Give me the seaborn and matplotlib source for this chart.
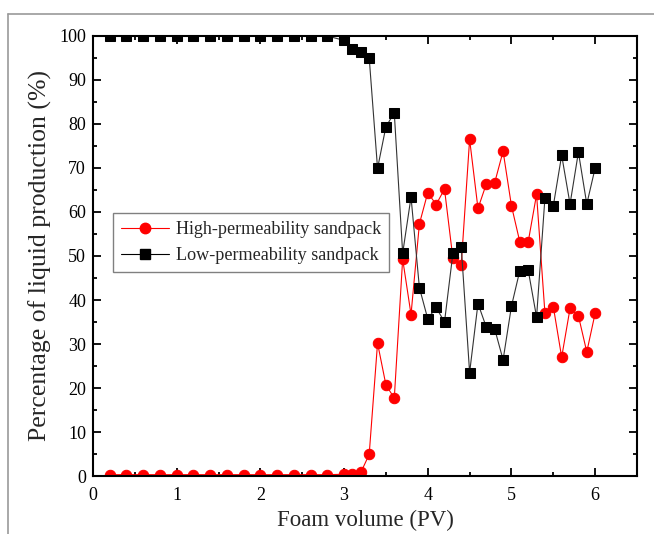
import numpy as np
import pandas as pd
import matplotlib
matplotlib.use("Agg")
import matplotlib.pyplot as plt
from matplotlib.lines import Line2D
from matplotlib.ticker import MultipleLocator
import seaborn as sns

# Foam volume injected (PV)
foam_pv = [0.2, 0.4, 0.6, 0.8, 1.0, 1.2, 1.4, 1.6, 1.8, 2.0, 2.2, 2.4, 2.6, 2.8,
           3.0, 3.1, 3.2, 3.3, 3.4, 3.5, 3.6, 3.7, 3.8, 3.9, 4.0, 4.1, 4.2, 4.3,
           4.4, 4.5, 4.6, 4.7, 4.8, 4.9, 5.0, 5.1, 5.2, 5.3, 5.4, 5.5, 5.6, 5.7,
           5.8, 5.9, 6.0]

# Percentage of liquid production (%)
high_perm = [0.3, 0.3, 0.3, 0.3, 0.3, 0.3, 0.3, 0.3, 0.3, 0.3, 0.3, 0.3, 0.3, 0.3,
             0.4, 0.5, 0.8, 4.9, 30.2, 20.7, 17.7, 49.3, 36.7, 57.3, 64.4, 61.7, 65.2, 49.5,
             48.0, 76.5, 60.8, 66.4, 66.7, 73.8, 61.4, 53.2, 53.2, 64.0, 37.0, 38.5, 27.0, 38.1,
             36.4, 28.2, 37.0]
low_perm = [100, 100, 100, 100, 100, 100, 100, 100, 100, 100, 100, 100, 100, 100,
            99.0, 97.0, 96.3, 95.1, 69.9, 79.4, 82.5, 50.6, 63.4, 42.8, 35.7, 38.3, 35.0, 50.6,
            52.1, 23.5, 39.2, 33.8, 33.4, 26.4, 38.6, 46.7, 46.8, 36.1, 63.2, 61.4, 72.9, 61.8,
            73.6, 61.8, 70.0]

series_names = ["High-permeability sandpack", "Low-permeability sandpack"]

df = pd.DataFrame({
    "pv": foam_pv * 2,
    "pct": high_perm + low_perm,
    "sample": [series_names[0]] * len(foam_pv) + [series_names[1]] * len(foam_pv),
})

sns.set_style("ticks")
plt.rcParams["font.family"] = ["Liberation Serif", "DejaVu Serif"]

fig = plt.figure(figsize=(6.54, 5.34), dpi=100)
ax = fig.add_axes([0.1422, 0.1086, 0.8318, 0.824])

sns.lineplot(data=df[df["sample"] == series_names[0]], x="pv", y="pct", ax=ax,
             color="red", lw=0.8, marker="o", markersize=7.5,
             markeredgecolor="red", markerfacecolor="red", legend=False)
sns.lineplot(data=df[df["sample"] == series_names[1]], x="pv", y="pct", ax=ax,
             color="#333333", lw=0.8, marker="s", markersize=6.8,
             markeredgecolor="black", markerfacecolor="black", legend=False)

ax.set_xlim(0, 6.5)
ax.set_ylim(0, 100)
ax.xaxis.set_major_locator(MultipleLocator(1))
ax.xaxis.set_minor_locator(MultipleLocator(0.5))
ax.yaxis.set_major_locator(MultipleLocator(10))
ax.yaxis.set_minor_locator(MultipleLocator(5))
ax.tick_params(which="both", direction="in", top=True, right=True,
               labelsize=13, width=1.3, colors="black")
ax.tick_params(which="major", length=5.5, pad=5)
ax.tick_params(axis="x", which="major", pad=8)
ax.tick_params(which="minor", length=3)
for sp in ax.spines.values():
    sp.set_visible(True)
    sp.set_linewidth(1.5)
    sp.set_color("black")

ax.set_xlabel("Foam volume (PV)", fontsize=16.5, labelpad=4)
ax.set_ylabel("Percentage of liquid production (%)", fontsize=18.5, labelpad=5)

handles = [
    Line2D([], [], color="red", lw=0.8, marker="o", markersize=7.5,
           markerfacecolor="red", markeredgecolor="red"),
    Line2D([], [], color="black", lw=0.8, marker="s", markersize=6.8,
           markerfacecolor="black", markeredgecolor="black"),
]
leg = ax.legend(handles, series_names, loc="upper left",
                bbox_to_anchor=(0.037, 0.598), fontsize=13.1, frameon=True,
                fancybox=False, edgecolor="#808080", framealpha=1,
                handlelength=2.6, borderpad=0.45, labelspacing=0.5,
                handletextpad=0.4, borderaxespad=0)
leg.get_frame().set_linewidth(1.0)

# thin grey page frame on the top and left
fig.add_artist(Line2D([8 / 654, 1.0], [1 - 14 / 534, 1 - 14 / 534],
                      transform=fig.transFigure, color="#9a9a9a", lw=1.2))
fig.add_artist(Line2D([8 / 654, 8 / 654], [0.0, 1 - 14 / 534],
                      transform=fig.transFigure, color="#9a9a9a", lw=1.2))

fig.savefig("out.png", dpi=100)
